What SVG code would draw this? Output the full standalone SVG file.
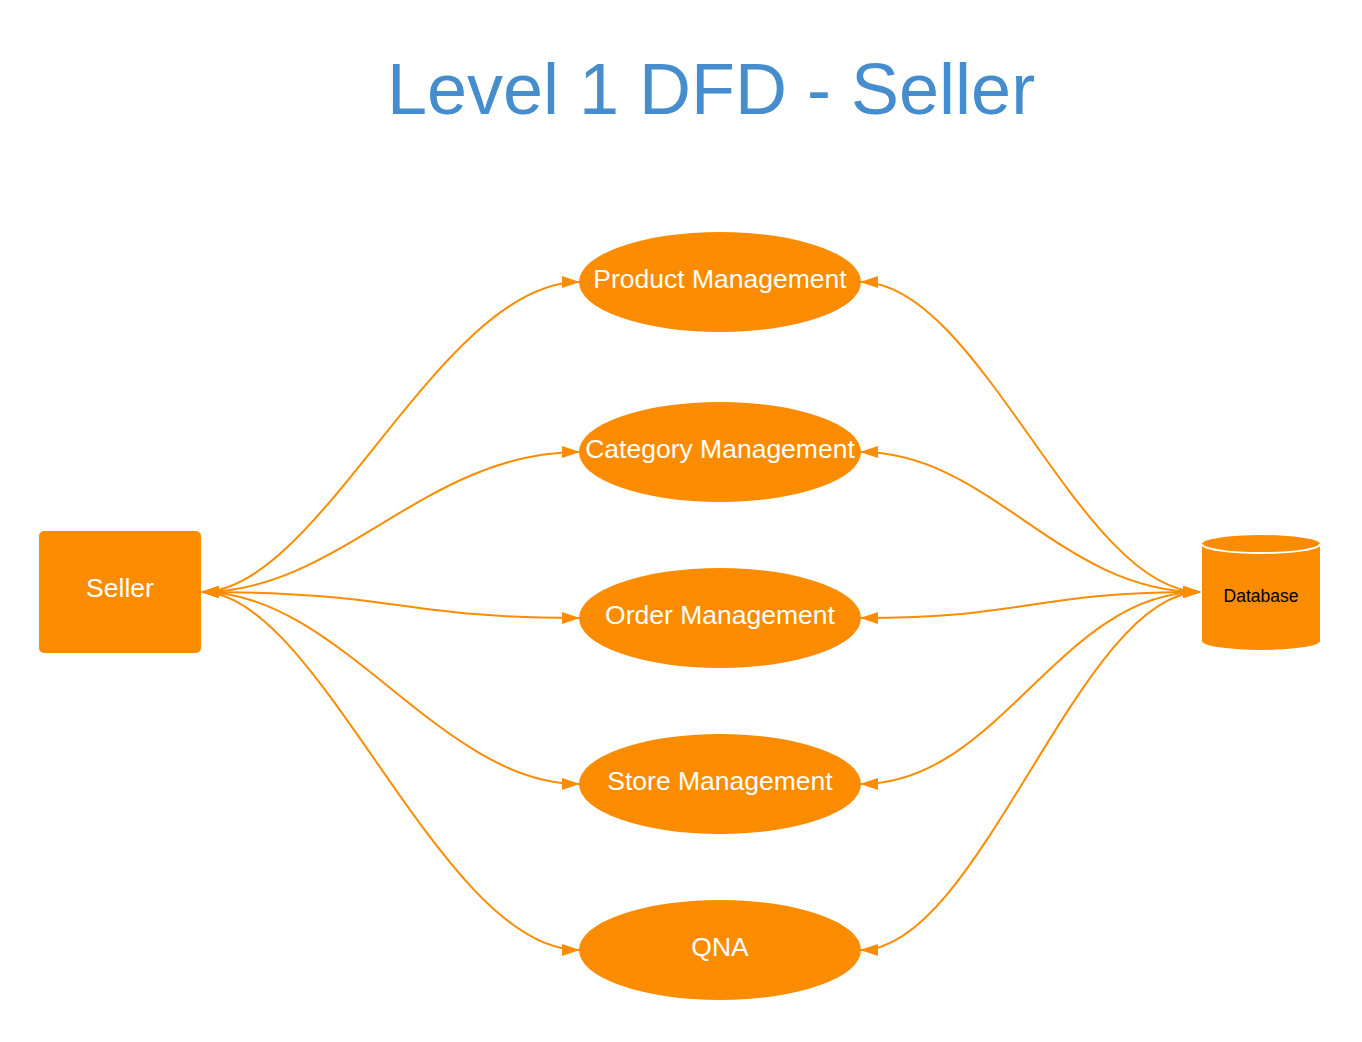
<svg xmlns="http://www.w3.org/2000/svg" width="1362" height="1042" viewBox="0 0 1362 1042">
<style>
.node{fill:#fb8c00}
.lbl{font-family:"Liberation Sans",Arial,sans-serif;font-size:26.5px;fill:#ffffff;text-anchor:middle}
.edge{fill:none;stroke:#fb8c00;stroke-width:2;marker-start:url(#ah);marker-end:url(#ah)}
</style>
<defs>
<marker id="ah" viewBox="0 0 18 12" refX="17" refY="6" markerWidth="18" markerHeight="12" markerUnits="userSpaceOnUse" orient="auto-start-reverse">
<path d="M0,0 L18,6 L0,12 Z" fill="#fb8c00"/>
</marker>
</defs>
<rect width="1362" height="1042" fill="#ffffff"/>
<text x="711" y="114" font-family="Liberation Sans,Arial,sans-serif" font-size="72" fill="#458dcc" text-anchor="middle">Level 1 DFD - Seller</text>
<g id="connectors">
<path class="edge" d="M202,592 C320,592 440,282 579,282"/>
<path class="edge" d="M202,592 C340,592 425,452 579,452"/>
<path class="edge" d="M202,592 C400,592 400,618 579,618"/>
<path class="edge" d="M202,592 C340,592 440,784 579,784"/>
<path class="edge" d="M202,592 C320,592 440,950 579,950"/>
<path class="edge" d="M861,282 C980,282 1080,592 1200,592"/>
<path class="edge" d="M861,452 C990,452 1060,592 1200,592"/>
<path class="edge" d="M861,618 C1030,618 1030,592 1200,592"/>
<path class="edge" d="M861,784 C1000,784 1060,592 1200,592"/>
<path class="edge" d="M861,950 C980,950 1080,592 1200,592"/>
</g>
<g id="seller">
<rect class="node" x="39" y="531" width="162" height="122" rx="5"/>
<text class="lbl" x="120" y="597">Seller</text>
</g>
<g id="product">
<ellipse class="node" cx="720" cy="282" rx="141" ry="50"/>
<text class="lbl" x="720" y="288">Product Management</text>
</g>
<g id="category">
<ellipse class="node" cx="720" cy="452" rx="141" ry="50"/>
<text class="lbl" x="720" y="458">Category Management</text>
</g>
<g id="order">
<ellipse class="node" cx="720" cy="618" rx="141" ry="50"/>
<text class="lbl" x="720" y="624">Order Management</text>
</g>
<g id="store">
<ellipse class="node" cx="720" cy="784" rx="141" ry="50"/>
<text class="lbl" x="720" y="790">Store Management</text>
</g>
<g id="qna">
<ellipse class="node" cx="720" cy="950" rx="141" ry="50"/>
<text class="lbl" x="720" y="956">QNA</text>
</g>
<g id="database">
<path class="node" d="M1202,544 A59,9 0 0 1 1320,544 L1320,641 A59,9 0 0 1 1202,641 Z"/>
<path d="M1202,544 A59,9 0 0 0 1320,544" fill="none" stroke="#ffffff" stroke-width="2"/>
<text x="1261" y="602" font-family="Liberation Sans,Arial,sans-serif" font-size="17.5" fill="#000000" text-anchor="middle">Database</text>
</g>
</svg>
